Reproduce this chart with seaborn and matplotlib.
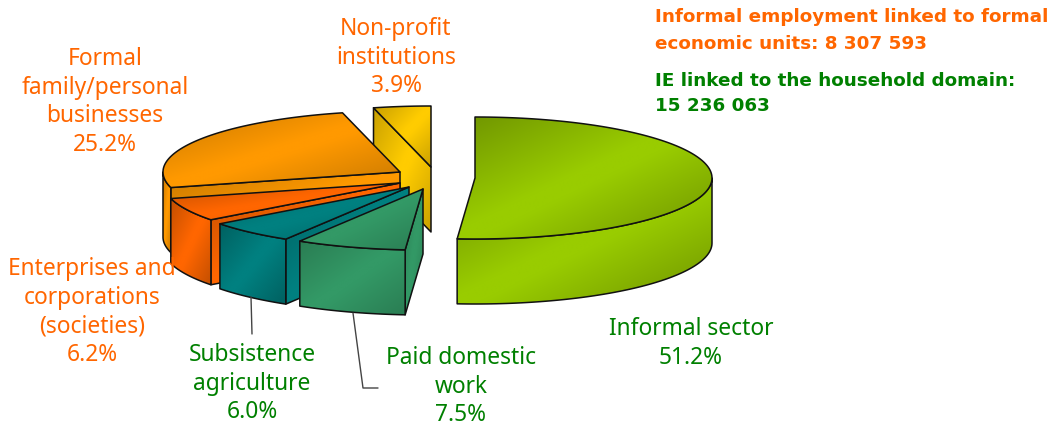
import numpy as np
import matplotlib
matplotlib.use('Agg')
import matplotlib.pyplot as plt
import seaborn as sns
from matplotlib.patches import Polygon

# shares in drawing order (clockwise from 12 o'clock)
categories = ['Informal sector', 'Paid domestic work', 'Subsistence agriculture',
              'Enterprises and corporations (societies)', 'Formal family/personal businesses',
              'Non-profit institutions']
shares = [51.2, 7.5, 6.0, 6.2, 25.2, 3.9]
label_lines = [['Informal sector'], ['Paid domestic', 'work'], ['Subsistence', 'agriculture'],
               ['Enterprises and', 'corporations', '(societies)'],
               ['Formal', 'family/personal', 'businesses'], ['Non-profit', 'institutions']]
note_orange = ['Informal employment linked to formal', 'economic units: 8 307 593']
note_green = ['IE linked to the household domain:', '15 236 063']

ORANGE_TXT = '#FF6600'
GREEN_TXT = '#008000'

# layout: exploded apex of each slice in pixels, label centre and first baseline row
apex = [(475, 178), (423, 189), (409, 187), (400, 183), (400, 172), (431, 167)]
label_pos = [(691, 329), (461, 358), (252, 355), (92, 269), (105, 59), (396, 29)]
label_col = [GREEN_TXT, GREEN_TXT, GREEN_TXT, ORANGE_TXT, ORANGE_TXT, ORANGE_TXT]
bright = ['#99CC00', '#339966', '#008080', '#FF6600', '#FF9900', '#FFCC00']
dark = ['#6F9400', '#2A7D53', '#006060', '#C24E00', '#C97900', '#C9A000']
RX, RY, DEPTH = 237, 61, 65
PITCH = 28.7

sns.set_theme(style='white')
plt.rcParams['font.family'] = ['Noto Sans', 'DejaVu Sans']

fig = plt.figure(figsize=(10.52, 4.28), dpi=100)
ax = fig.add_axes([0, 0, 1, 1])
ax.set_axis_off()

zo = [2]


def rim(c, a):
    a = np.radians(a)
    return np.column_stack([c[0] + RX * np.sin(a), c[1] - RY * np.cos(a)])


def shaded(pts, idx):
    # fill a polygon with the dark-bright-dark diagonal band of the original
    zo[0] += 1
    x0, y0 = pts.min(axis=0)
    x1, y1 = pts.max(axis=0)
    u, v = np.meshgrid(np.linspace(0, 1, 120), np.linspace(0, 1, 120))
    grad = 1 - np.abs(u + v - 1)
    cmap = sns.blend_palette([dark[idx], bright[idx]], as_cmap=True)
    im = ax.imshow(grad, extent=(x0, x1, y1, y0), cmap=cmap, vmin=0, vmax=0.93,
                   aspect='auto', interpolation='bilinear', zorder=zo[0])
    poly = Polygon(pts, closed=True, fc='none', ec='#111111', lw=1.1, joinstyle='round', zorder=zo[0] + 0.5)
    ax.add_patch(poly)
    im.set_clip_path(poly)


ends = np.cumsum(shares) * 3.6
starts = ends - np.array(shares) * 3.6
down = np.array([0, DEPTH])

# back to front: non-profit first, the informal sector stands apart
for i in [5, 4, 3, 2, 1, 0]:
    c = np.array(apex[i], dtype=float)
    s, e = starts[i], ends[i]
    # wall on the cut edge
    if s > 180:
        edge = rim(c, [s])[0]
        shaded(np.array([c, edge, edge + down, c + down]), i)
    # outer wall, only the part facing the viewer
    lo, hi = max(s, 90), min(e, 270)
    if hi > lo:
        arc = rim(c, np.linspace(lo, hi, 80))
        shaded(np.vstack([arc, (arc + down)[::-1]]), i)
    # top face
    shaded(np.vstack([c, rim(c, np.linspace(s, e, 160))]), i)

# leader lines
ax.plot([251, 252], [297, 334], color='#444444', lw=1, zorder=40)
ax.plot([353, 363, 378], [313, 388, 388], color='#444444', lw=1, zorder=40)

# slice labels, the share goes on the last row
for lines, val, (cx, cy), col in zip(label_lines, shares, label_pos, label_col):
    for k, t in enumerate(lines + [f'{val:.1f}%']):
        ax.text(cx, cy + k * PITCH, t, color=col, fontsize=16.4, ha='center', va='center', zorder=50)

for t, y, col in zip(note_orange + note_green, [17, 44, 81, 106],
                     [ORANGE_TXT, ORANGE_TXT, GREEN_TXT, GREEN_TXT]):
    ax.text(655, y, t, color=col, fontsize=13.2, fontweight='bold', fontfamily='DejaVu Sans',
            ha='left', va='center', zorder=50)

ax.set_xlim(0, 1052)
ax.set_ylim(428, 0)
fig.savefig('out.png', dpi=100, facecolor='white')
